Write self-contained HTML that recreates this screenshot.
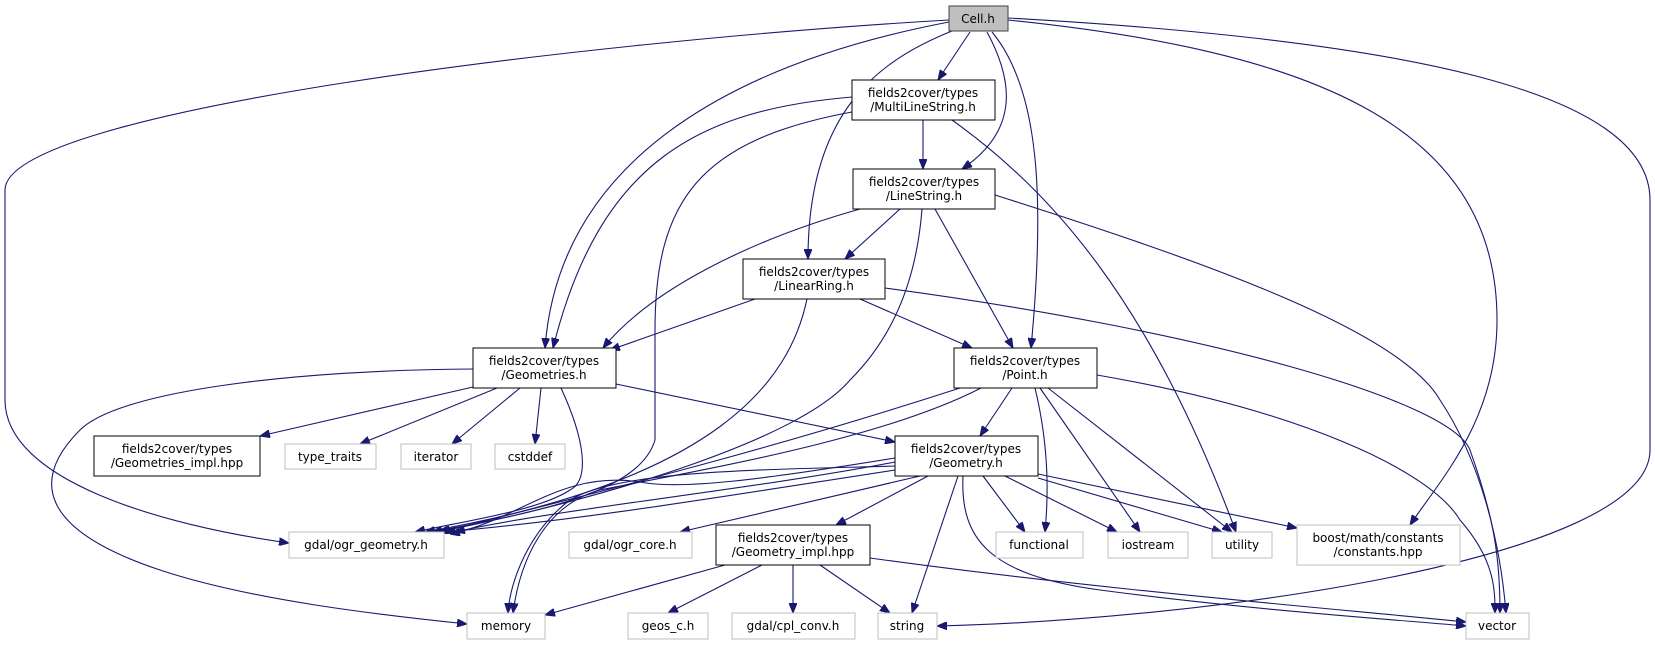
<!DOCTYPE html>
<html><head><meta charset="utf-8"><style>
html,body{margin:0;padding:0;background:#fff;width:1655px;height:648px;overflow:hidden}
svg text{font-family:"DejaVu Sans","Liberation Sans",sans-serif;font-size:12px;fill:#000;text-anchor:middle}
.e{fill:none;stroke:#191970;stroke-width:1.1}
.n{fill:#fff;stroke:#000;stroke-width:1}
.x{fill:#fff;stroke:#bfbfbf;stroke-width:1}
</style></head><body>
<svg width="1655" height="648" viewBox="0 0 1655 648" xmlns="http://www.w3.org/2000/svg">
<defs><marker id="a" markerWidth="10" markerHeight="8" refX="10" refY="4" orient="auto" markerUnits="userSpaceOnUse"><path d="M0,0 L10,4 L0,8 Z" fill="#191970" stroke="#191970"/></marker></defs>
<g class="e" marker-end="url(#a)">
<!-- Cell -->
<path d="M949,20 C600,40 5,110 5,190 L5,400 C5,480 160,525 289,543"/>
<path d="M949,22 C750,60 560,150 545,348"/>
<path d="M970,32 L938,80"/>
<path d="M987,32 C1013,80 1020,130 962,169"/>
<path d="M952,31 C880,60 808,110 808,259"/>
<path d="M992,32 C1040,90 1045,200 1031,348"/>
<path d="M1008,20 C1300,50 1497,120 1497,320 C1497,420 1440,480 1410,525"/>
<path d="M1008,18 C1400,40 1650,90 1650,200 L1650,450 C1650,560 1200,620 937,626"/>
<!-- MultiLineString -->
<path d="M923,120 L923,169"/>
<path d="M852,97 C700,110 600,160 553,348"/>
<path d="M852,112 C700,140 655,200 655,330 L655,440 C640,490 550,510 432,532"/>
<path d="M952,120 C1050,190 1150,300 1236,532"/>
<!-- LineString -->
<path d="M900,209 L845,259"/>
<path d="M860,209 C750,240 650,290 603,348"/>
<path d="M922,209 C915,300 880,350 850,380 C800,440 600,500 438,532"/>
<path d="M935,209 L1013,348"/>
<path d="M995,195 C1200,260 1400,330 1440,400 C1480,460 1500,540 1506,613"/>
<!-- LinearRing -->
<path d="M755,299 L610,350"/>
<path d="M807,299 C790,380 720,480 425,532"/>
<path d="M860,299 L972,348"/>
<path d="M885,288 C1200,330 1450,400 1470,450 C1495,520 1500,560 1500,613"/>
<!-- Geometries -->
<path d="M473,387 L260,436"/>
<path d="M497,388 L360,444"/>
<path d="M520,388 L452,444"/>
<path d="M541,388 L535,444"/>
<path d="M561,388 C585,440 590,480 570,490 C540,510 470,520 415,532"/>
<path d="M473,369 C300,370 120,390 80,430 C30,480 40,530 160,570 C250,600 380,615 467,624"/>
<path d="M616,384 L895,442"/>
<!-- Point -->
<path d="M960,388 C800,440 650,480 440,532"/>
<path d="M981,388 C880,440 700,470 600,490 C545,505 520,560 513,613"/>
<path d="M1012,388 L980,436"/>
<path d="M1035,388 C1050,450 1048,500 1045,532"/>
<path d="M1040,388 L1140,532"/>
<path d="M1048,388 L1232,532"/>
<path d="M1097,375 C1300,410 1430,470 1460,520 C1495,560 1495,590 1495,613"/>
<!-- Geometry -->
<path d="M895,470 C700,500 580,520 445,532"/>
<path d="M895,466 C760,470 620,470 570,500 C530,530 510,580 508,613"/>
<path d="M895,462 C750,490 550,510 455,532"/>
<path d="M895,458 C760,480 680,490 640,482 C560,470 520,520 450,534"/>
<path d="M920,476 L680,532"/>
<path d="M928,476 L836,525"/>
<path d="M958,476 L912,613"/>
<path d="M963,476 C960,540 990,575 1100,590 C1250,610 1400,620 1466,626"/>
<path d="M983,476 L1025,532"/>
<path d="M1005,476 L1117,532"/>
<path d="M1038,478 L1222,532"/>
<path d="M1038,474 L1297,528"/>
<!-- Geometry_impl -->
<path d="M725,565 L545,615"/>
<path d="M762,565 L668,613"/>
<path d="M793,565 L793,613"/>
<path d="M820,565 L890,613"/>
<path d="M870,558 C1100,590 1350,610 1466,622"/>
</g>
<!-- nodes -->
<rect x="949" y="6" width="59" height="25" fill="#bfbfbf" stroke="#404040"/><text x="978" y="23">Cell.h</text>
<rect class="n" x="852" y="80" width="143" height="40"/><text x="923" y="97">fields2cover/types</text><text x="923" y="111">/MultiLineString.h</text>
<rect class="n" x="853" y="169" width="142" height="40"/><text x="924" y="186">fields2cover/types</text><text x="924" y="200">/LineString.h</text>
<rect class="n" x="743" y="259" width="142" height="40"/><text x="814" y="276">fields2cover/types</text><text x="814" y="290">/LinearRing.h</text>
<rect class="n" x="473" y="348" width="143" height="40"/><text x="544" y="365">fields2cover/types</text><text x="544" y="379">/Geometries.h</text>
<rect class="n" x="954" y="348" width="143" height="40"/><text x="1025" y="365">fields2cover/types</text><text x="1025" y="379">/Point.h</text>
<rect class="n" x="895" y="436" width="143" height="40"/><text x="966" y="453">fields2cover/types</text><text x="966" y="467">/Geometry.h</text>
<rect class="n" x="94" y="436" width="166" height="40"/><text x="177" y="453">fields2cover/types</text><text x="177" y="467">/Geometries_impl.hpp</text>
<rect class="x" x="285" y="444" width="91" height="25"/><text x="330" y="461">type_traits</text>
<rect class="x" x="401" y="444" width="70" height="25"/><text x="436" y="461">iterator</text>
<rect class="x" x="495" y="444" width="70" height="25"/><text x="530" y="461">cstddef</text>
<rect class="x" x="289" y="532" width="155" height="26"/><text x="366" y="549">gdal/ogr_geometry.h</text>
<rect class="x" x="569" y="532" width="123" height="26"/><text x="630" y="549">gdal/ogr_core.h</text>
<rect class="n" x="716" y="525" width="154" height="40"/><text x="793" y="542">fields2cover/types</text><text x="793" y="556">/Geometry_impl.hpp</text>
<rect class="x" x="996" y="532" width="87" height="26"/><text x="1039" y="549">functional</text>
<rect class="x" x="1108" y="532" width="80" height="26"/><text x="1148" y="549">iostream</text>
<rect class="x" x="1212" y="532" width="60" height="26"/><text x="1242" y="549">utility</text>
<rect class="x" x="1297" y="525" width="163" height="40"/><text x="1378" y="542">boost/math/constants</text><text x="1378" y="556">/constants.hpp</text>
<rect class="x" x="467" y="613" width="78" height="26"/><text x="506" y="630">memory</text>
<rect class="x" x="628" y="613" width="80" height="26"/><text x="668" y="630">geos_c.h</text>
<rect class="x" x="732" y="613" width="123" height="26"/><text x="793" y="630">gdal/cpl_conv.h</text>
<rect class="x" x="878" y="613" width="59" height="26"/><text x="907" y="630">string</text>
<rect class="x" x="1466" y="613" width="63" height="26"/><text x="1497" y="630">vector</text>
</svg>
</body></html>
